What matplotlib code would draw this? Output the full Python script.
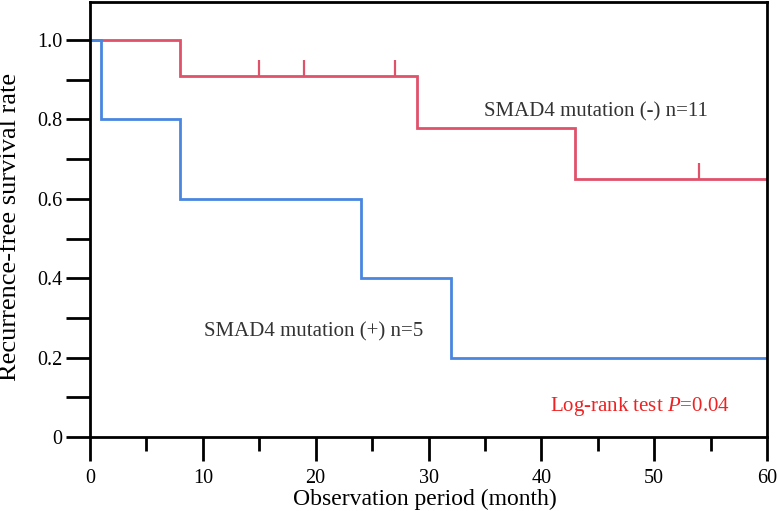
import numpy as np
import matplotlib.pyplot as plt

# Kaplan-Meier step data
neg_times = [0, 8, 29, 43, 60]
neg_surv = [1.0, 0.909, 0.779, 0.649, 0.649]
neg_censor_t = [15, 19, 27, 54]
neg_censor_s = [0.909, 0.909, 0.909, 0.649]

pos_times = [0, 1, 8, 24, 32, 60]
pos_surv = [1.0, 0.8, 0.6, 0.4, 0.2, 0.2]

x_major = [0, 10, 20, 30, 40, 50, 60]
y_major = [0, 0.2, 0.4, 0.6, 0.8, 1.0]
y_labels = ['0', '0.2', '0.4', '0.6', '0.8', '1.0']

red = '#e0526a'
blue = '#4a86e0'

plt.rcParams['font.family'] = ['Liberation Serif', 'DejaVu Serif']
plt.rcParams['mathtext.fontset'] = 'custom'
plt.rcParams['mathtext.it'] = 'Liberation Serif:italic'
plt.rcParams['mathtext.rm'] = 'Liberation Serif'

fig = plt.figure(figsize=(7.77, 5.11), dpi=100)
ax = fig.add_axes([90 / 777, 74 / 511, 677 / 777, 435 / 511])

ax.step(neg_times, neg_surv, where='post', color=red, lw=2, solid_joinstyle='miter')
ax.step(pos_times, pos_surv, where='post', color=blue, lw=2, solid_joinstyle='miter')
# censor marks
ax.vlines(neg_censor_t, neg_censor_s, np.array(neg_censor_s) + 0.04, color=red, lw=1.6)

ax.set_xlim(0, 60)
ax.set_ylim(0, 435 / 397)

ax.set_xticks(x_major)
ax.set_xticks([5, 15, 25, 35, 45, 55], minor=True)
ax.set_yticks(y_major)
ax.set_yticklabels(y_labels)
ax.set_yticks([0.1, 0.3, 0.5, 0.7, 0.9], minor=True)
ax.tick_params(axis='both', which='both', direction='out', width=2, labelsize=14.5, colors='black')
ax.tick_params(axis='x', which='major', length=17, pad=6)
ax.tick_params(axis='x', which='minor', length=10)
ax.tick_params(axis='y', which='both', length=17, pad=3)
for sp in ax.spines.values():
    sp.set_linewidth(2)

ax.set_xlabel('Observation period (month)', fontsize=17)
ax.set_ylabel('Recurrence-free survival rate', fontsize=19)
ax.xaxis.set_label_coords(0.495, -0.118)
ax.yaxis.set_label_coords(-0.102, 0.484)

ax.text(44.8, 0.818, 'SMAD4 mutation (-) n=11', fontsize=15, color='#333333', ha='center', va='center')
ax.text(19.8, 0.266, 'SMAD4 mutation (+) n=5', fontsize=15, color='#333333', ha='center', va='center')
ax.text(48.7, 0.076, 'Log-rank test $\\it{P}$=0.04', fontsize=15, color='#ee2222', ha='center', va='center')

fig.savefig('out.png', dpi=100)
